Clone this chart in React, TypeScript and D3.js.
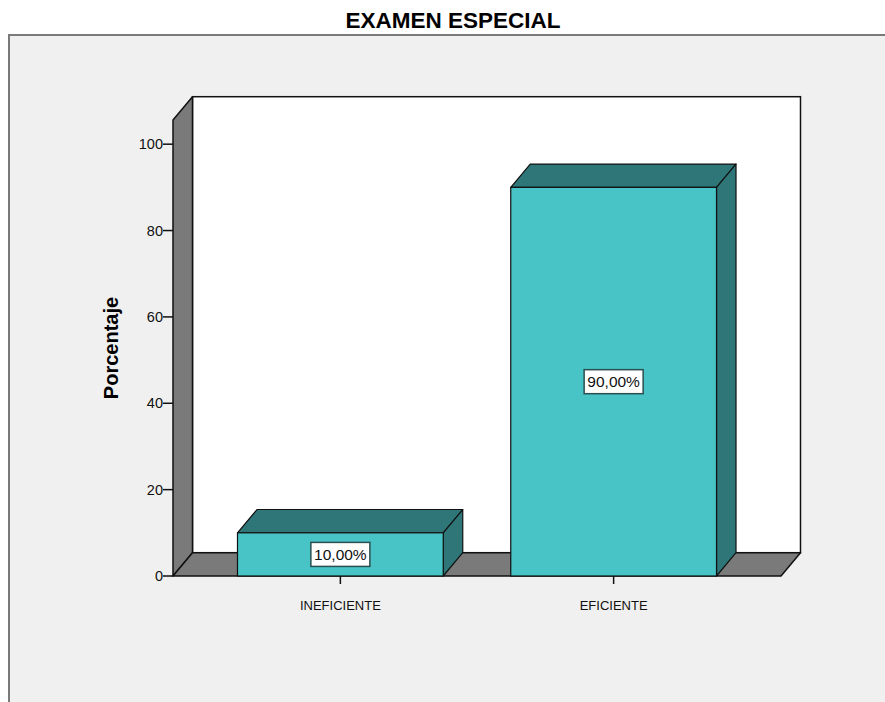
import React from "react";
import * as d3 from "d3";

const title = "EXAMEN ESPECIAL";
const yAxisTitle = "Porcentaje";
const categories = ["INEFICIENTE", "EFICIENTE"];
const values = [10, 90];
const valueLabels = ["10,00%", "90,00%"];
const yTicks = [0, 20, 40, 60, 80, 100];

const W = 885;
const H = 702;
const FONT = "'Liberation Sans', Arial, sans-serif";

export default function App() {
  const left = 173;
  const right = 781;
  const bottom = 576;
  const top = 120;
  const dx = 19.5;
  const dy = -23.3;

  const y = d3.scaleLinear().domain([0, 105.6]).range([bottom, top]);
  const x = d3
    .scaleBand<string>()
    .domain(categories)
    .range([left, right])
    .paddingInner(0.247)
    .paddingOuter(0.236);

  const pts = (arr: [number, number][]) => arr.map((p) => p.join(",")).join(" ");
  const bw = x.bandwidth();

  return (
    <svg
      width={W}
      height={H}
      style={{ position: "absolute", left: 0, top: 0, background: "#ffffff" }}
      fontFamily={FONT}
    >
      <rect x={9} y={35} width={W + 20} height={H + 20} fill="#f0f0f0" stroke="#7a7a7a" strokeWidth={2} />
      <text x={453} y={28} textAnchor="middle" fontSize={22.5} fontWeight="bold" fill="#000">
        {title}
      </text>

      {/* back wall */}
      <rect
        x={left + dx}
        y={top + dy}
        width={right - left}
        height={bottom - top}
        fill="#ffffff"
        stroke="#111"
        strokeWidth={1.5}
      />
      {/* left wall */}
      <polygon
        points={pts([
          [left, top],
          [left + dx, top + dy],
          [left + dx, bottom + dy],
          [left, bottom],
        ])}
        fill="#7a7a7a"
        stroke="#111"
        strokeWidth={1.5}
        strokeLinejoin="round"
      />
      {/* floor */}
      <polygon
        points={pts([
          [left, bottom],
          [left + dx, bottom + dy],
          [right + dx, bottom + dy],
          [right, bottom],
        ])}
        fill="#7a7a7a"
        stroke="#111"
        strokeWidth={1.5}
        strokeLinejoin="round"
      />

      {/* y axis ticks */}
      {yTicks.map((t) => (
        <g key={t}>
          <line x1={left - 10} x2={left} y1={y(t)} y2={y(t)} stroke="#111" strokeWidth={1.5} />
          <text x={left - 10} y={y(t) + 5} textAnchor="end" fontSize={14.5} fill="#111">
            {t}
          </text>
        </g>
      ))}

      {/* bars */}
      {categories.map((c, i) => {
        const x0 = x(c) as number;
        const x1 = x0 + bw;
        const yt = y(values[i]);
        const cx = x0 + bw / 2;
        const cy = (yt + bottom) / 2;
        return (
          <g key={c}>
            <polygon
              points={pts([
                [x0, yt],
                [x0 + dx, yt + dy],
                [x1 + dx, yt + dy],
                [x1, yt],
              ])}
              fill="#2e7678"
              stroke="#111"
              strokeWidth={1.2}
              strokeLinejoin="round"
            />
            <polygon
              points={pts([
                [x1, yt],
                [x1 + dx, yt + dy],
                [x1 + dx, bottom + dy],
                [x1, bottom],
              ])}
              fill="#2e7678"
              stroke="#111"
              strokeWidth={1.2}
              strokeLinejoin="round"
            />
            <rect x={x0} y={yt} width={bw} height={bottom - yt} fill="#48c3c6" stroke="#111" strokeWidth={1.2} />
            <rect x={cx - 29.5} y={cy - 12} width={59} height={24} fill="#ffffff" stroke="#2a4f50" strokeWidth={1.5} />
            <text x={cx} y={cy + 5.5} textAnchor="middle" fontSize={15.5} fill="#111">
              {valueLabels[i]}
            </text>
            <line x1={cx} x2={cx} y1={bottom} y2={bottom + 8} stroke="#111" strokeWidth={1.5} />
            <text x={cx} y={610} textAnchor="middle" fontSize={13} fill="#111">
              {c}
            </text>
          </g>
        );
      })}

      <text
        transform={`translate(118, 348) rotate(-90)`}
        textAnchor="middle"
        fontSize={20}
        fontWeight="bold"
        fill="#000"
      >
        {yAxisTitle}
      </text>
    </svg>
  );
}
